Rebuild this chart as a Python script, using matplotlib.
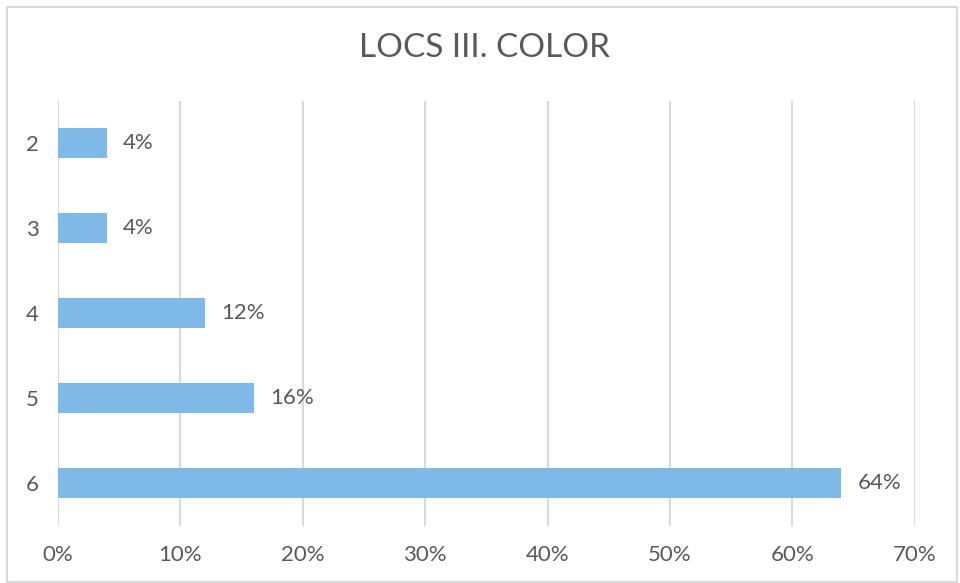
import matplotlib.pyplot as plt
from matplotlib.patches import Rectangle

plt.rcParams['font.family'] = ['Lato', 'DejaVu Sans']

categories = ['2', '3', '4', '5', '6']
values = [4, 4, 12, 16, 64]
xticks = [0, 10, 20, 30, 40, 50, 60, 70]

text_col = '#595959'
grid_col = '#D9D9D9'
bar_col = '#7FB9E8'

fig = plt.figure(figsize=(9.6, 5.83), dpi=100)
ax = fig.add_axes([0.0604, 0.0978, 0.8926, 0.729])

# borde exterior del gráfico
fig.patches.append(Rectangle((7/960, 1/583), 950/960, 575/583, transform=fig.transFigure,
                             fill=False, edgecolor=grid_col, linewidth=1.5))

pos = list(range(len(categories)))
ax.barh(pos, values, height=0.353, color=bar_col, zorder=3)
for p, v in zip(pos, values):
    ax.text(v + 1.3, p, '{}%'.format(v), va='center', ha='left', fontsize=16, color=text_col)

ax.set_xlim(0, 70)
ax.set_ylim(len(categories) - 0.5, -0.5)
ax.set_yticks(pos)
ax.set_yticklabels(categories)
ax.set_xticks(xticks)
ax.set_xticklabels(['{}%'.format(t) for t in xticks])
ax.tick_params(axis='both', length=0, labelsize=16, labelcolor=text_col)
ax.tick_params(axis='x', pad=14)
ax.tick_params(axis='y', pad=14)
ax.grid(axis='x', color=grid_col, linewidth=1.5, zorder=0)
for s in ax.spines.values():
    s.set_visible(False)

fig.text(0.505, 0.918, 'LOCS III. COLOR', ha='center', va='center', fontsize=24, color=text_col)

fig.savefig('out.png', dpi=100)
